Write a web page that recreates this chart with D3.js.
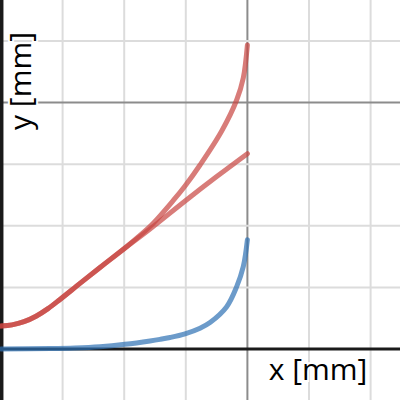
<!DOCTYPE html>
<html>
<head>
<meta charset="utf-8">
<script src="https://cdnjs.cloudflare.com/ajax/libs/d3/7.8.5/d3.min.js"></script>
<style>
  html, body { margin: 0; padding: 0; background: #fff; }
  svg { display: block; }
</style>
</head>
<body>
<div id="chart"></div>
<script>
// grid positions (one minor line per unit, major every 4)
const gridX = [1, 2, 3, 4, 5, 6];
const gridY = [1, 2, 3, 4, 5];
const majorEvery = 4;

// red curve, shared start
const redStart = [
  [0, 0.373], [0.179, 0.392], [0.373, 0.443], [0.568, 0.532], [0.763, 0.655],
  [0.958, 0.805], [1.282, 1.065], [1.607, 1.323], [2.013, 1.64]
];
// steep branch going up to x = 4
const redSteep = [
  [2.256, 1.843], [2.468, 2.037], [2.797, 2.411], [2.987, 2.646], [3.231, 2.987],
  [3.583, 3.539], [3.826, 4.042], [3.933, 4.399], [4.0, 4.935]
];
// branch that keeps going almost straight
const redStraight = [
  [2.419, 1.948], [3.015, 2.423], [3.502, 2.799], [4.0, 3.17]
];
// blue curve
const blue = [
  [0, 0], [0.795, 0.0065], [1.201, 0.016], [1.607, 0.037], [2.013, 0.076],
  [2.419, 0.130], [2.581, 0.156], [2.744, 0.187], [2.987, 0.247], [3.231, 0.338],
  [3.393, 0.430], [3.664, 0.687], [3.826, 1.012], [3.933, 1.336], [4.0, 1.774]
];

const xLabel = 'x [mm]';
const yLabel = 'y [mm]';

const width = 400, height = 400;
const unit = 61.6;

const svg = d3.select('#chart').append('svg')
  .attr('width', width)
  .attr('height', height);

const x = d3.scaleLinear().domain([0, width / unit]).range([1, 1 + width]);
const y = d3.scaleLinear().domain([0, 349 / unit]).range([349, 0]);

// minor + major grid
svg.append('g').selectAll('line').data(gridX).join('line')
  .attr('x1', d => x(d)).attr('x2', d => x(d))
  .attr('y1', 0).attr('y2', height)
  .attr('stroke', d => d % majorEvery === 0 ? '#8c8c8c' : '#dcdcdc')
  .attr('stroke-width', 2);

svg.append('g').selectAll('line').data(gridY).join('line')
  .attr('y1', d => y(d)).attr('y2', d => y(d))
  .attr('x1', 0).attr('x2', width)
  .attr('stroke', d => d % majorEvery === 0 ? '#8c8c8c' : '#dcdcdc')
  .attr('stroke-width', 2);

// axes
svg.append('line')
  .attr('x1', 0).attr('x2', width)
  .attr('y1', y(0)).attr('y2', y(0))
  .attr('stroke', '#1a1a1a').attr('stroke-width', 3);
svg.append('line')
  .attr('x1', x(0) + 0.7).attr('x2', x(0) + 0.7)
  .attr('y1', 0).attr('y2', height)
  .attr('stroke', '#1a1a1a').attr('stroke-width', 3.5);

const line = d3.line()
  .x(d => x(d[0]))
  .y(d => y(d[1]))
  .curve(d3.curveCatmullRom.alpha(0.5));

// curves, semi transparent so overlaps darken
const curves = [
  { pts: blue, color: '#2d70b3' },
  { pts: redStart.concat(redSteep), color: '#c74440' },
  { pts: redStart.concat(redStraight), color: '#c74440' }
];

svg.append('g').selectAll('path').data(curves).join('path')
  .attr('d', d => line(d.pts))
  .attr('fill', 'none')
  .attr('stroke', d => d.color)
  .attr('stroke-opacity', 0.7)
  .attr('stroke-width', 5)
  .attr('stroke-linecap', 'round')
  .attr('stroke-linejoin', 'round');

// axis labels
svg.append('text')
  .attr('x', 318).attr('y', 380)
  .attr('text-anchor', 'middle')
  .style('font-family', '"Open Sans", sans-serif')
  .style('font-size', '30px')
  .attr('fill', '#000')
  .attr('stroke', '#fff').attr('stroke-width', 4)
  .attr('paint-order', 'stroke')
  .text(xLabel);

svg.append('text')
  .attr('transform', 'translate(31,81) rotate(-90)')
  .attr('text-anchor', 'middle')
  .style('font-family', '"Open Sans", sans-serif')
  .style('font-size', '30px')
  .attr('fill', '#000')
  .attr('stroke', '#fff').attr('stroke-width', 4)
  .attr('paint-order', 'stroke')
  .text(yLabel);
</script>
</body>
</html>
